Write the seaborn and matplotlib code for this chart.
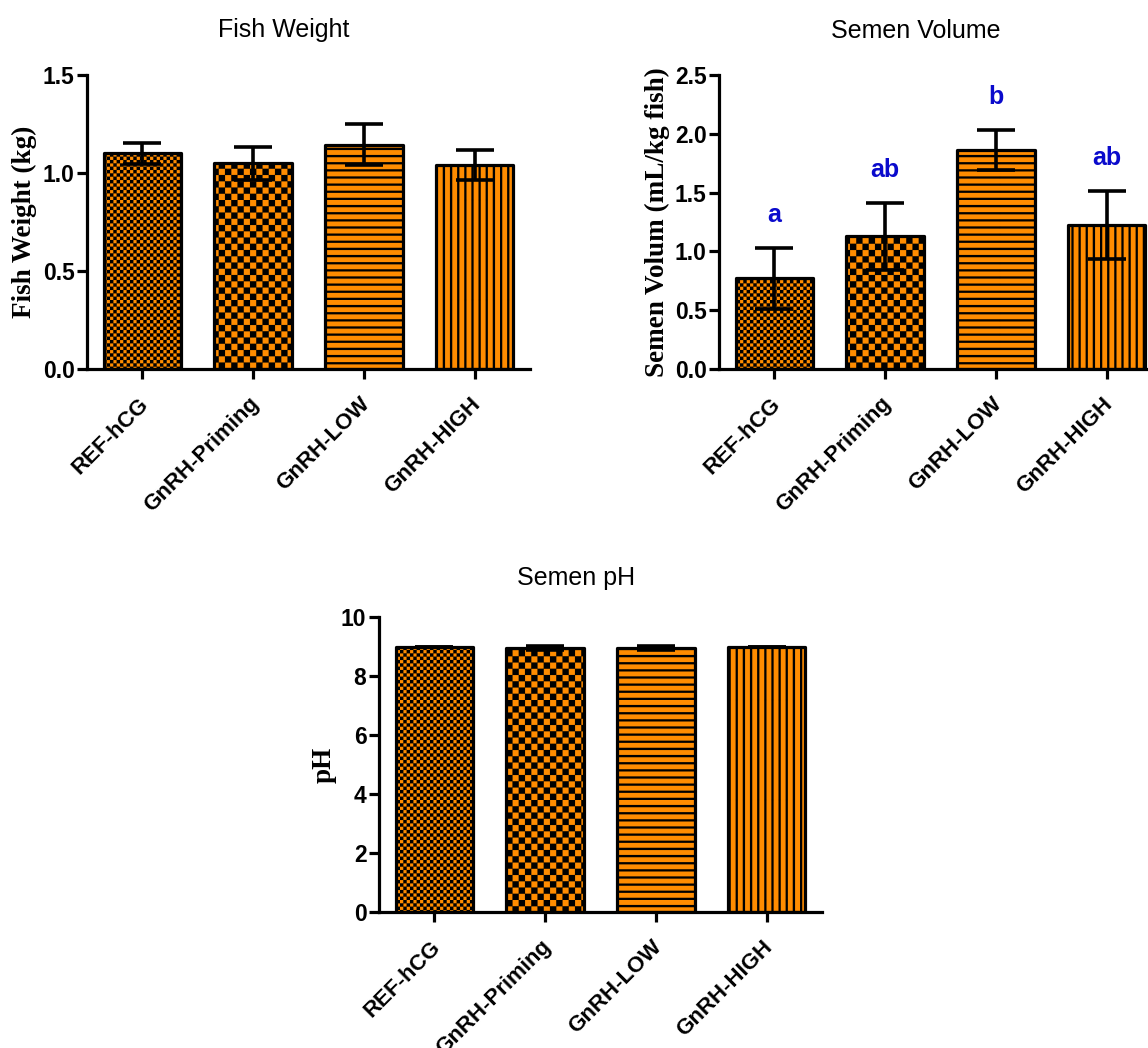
import numpy as np
import matplotlib
matplotlib.use("Agg")
import matplotlib.pyplot as plt
import matplotlib.hatch as mhatch
from matplotlib.path import Path
from matplotlib.ticker import FormatStrFormatter
from matplotlib.transforms import ScaledTranslation
import seaborn as sns

groups = ["REF-hCG", "GnRH-Priming", "GnRH-LOW", "GnRH-HIGH"]

weight_mean = [1.10, 1.05, 1.145, 1.04]
weight_err = [0.055, 0.085, 0.105, 0.078]

volume_mean = [0.77, 1.13, 1.86, 1.225]
volume_err = [0.26, 0.285, 0.17, 0.29]
volume_letters = ["a", "ab", "b", "ab"]

ph_mean = [9.0, 8.95, 8.95, 9.0]
ph_err = [0.0, 0.07, 0.07, 0.0]

hatches = ["o", "O", "-", "|"]


# graphpad style fills: checkerboards and stripes drawn as filled shapes
class Checker(mhatch.HatchPatternBase):
    def __init__(self, hatch, density):
        self.n = 30 if "o" in hatch else (16 if "O" in hatch else 0)
        self.num_vertices = (self.n * self.n // 2) * 5

    def set_vertices_and_codes(self, vertices, codes):
        s = 1.0 / self.n
        k = 0
        for r in range(self.n):
            for c in range(self.n):
                if (r + c) % 2:
                    continue
                x0, y0 = c * s, r * s
                vertices[k:k + 5] = [(x0, y0), (x0 + s, y0), (x0 + s, y0 + s),
                                     (x0, y0 + s), (x0, y0)]
                codes[k:k + 5] = [Path.MOVETO, Path.LINETO, Path.LINETO,
                                  Path.LINETO, Path.CLOSEPOLY]
                k += 5


class Stripes(mhatch.HatchPatternBase):
    n = 14
    frac = 0.3

    def __init__(self, hatch, density):
        self.horiz = "-" in hatch
        self.vert = "|" in hatch
        self.num_vertices = self.n * 5 if (self.horiz or self.vert) else 0

    def set_vertices_and_codes(self, vertices, codes):
        s = 1.0 / self.n
        t = s * self.frac
        for i in range(self.n):
            p = i * s
            if self.horiz:
                pts = [(0, p), (1, p), (1, p + t), (0, p + t), (0, p)]
            else:
                pts = [(p, 0), (p + t, 0), (p + t, 1), (p, 1), (p, 0)]
            vertices[i * 5:i * 5 + 5] = pts
            codes[i * 5:i * 5 + 5] = [Path.MOVETO, Path.LINETO, Path.LINETO,
                                      Path.LINETO, Path.CLOSEPOLY]


mhatch._hatch_types = [Checker, Stripes]

sns.set_style("ticks")
plt.rcParams["font.family"] = ["Liberation Sans", "DejaVu Sans"]
plt.rcParams["hatch.linewidth"] = 0.1
plt.rcParams["hatch.color"] = "black"
for k in ("text.color", "axes.labelcolor", "xtick.color", "ytick.color",
          "axes.edgecolor"):
    plt.rcParams[k] = "black"

W, H = 1148, 1048
fig = plt.figure(figsize=(W / 100, H / 100), dpi=100)

orange = "#ff8c00"
lw = 2.3


def panel(rect, means, errs, title, ylabel, ymax, ystep, fmt, label_x, title_pad):
    ax = fig.add_axes(rect)
    sns.barplot(x=groups, y=means, ax=ax, color=orange, saturation=1,
                edgecolor="black", linewidth=lw, width=0.7, errorbar=None)
    for bar, h in zip(ax.patches, hatches):
        bar.set_hatch(h)
        bar.set_joinstyle("round")
    ax.errorbar(np.arange(len(groups)), means, yerr=errs, fmt="none",
                ecolor="black", elinewidth=2.6, capsize=14, capthick=2.6,
                zorder=5)
    ax.set_xlim(-0.5, 3.5)
    ax.set_ylim(0, ymax)
    ax.set_yticks(np.arange(0, ymax + 1e-9, ystep))
    ax.yaxis.set_major_formatter(FormatStrFormatter(fmt))
    sns.despine(ax=ax)
    for sp in ("left", "bottom"):
        ax.spines[sp].set_linewidth(lw)
    ax.tick_params(width=lw, length=7, direction="out")
    ax.tick_params(axis="y", pad=2, labelsize=16.5)
    ax.tick_params(axis="x", pad=16, labelsize=16)
    for lab in ax.get_yticklabels():
        lab.set_fontweight("bold")
    dx = ScaledTranslation(0.03, 0, fig.dpi_scale_trans)
    for lab in ax.get_xticklabels():
        lab.set_fontweight("bold")
        lab.set_rotation(45)
        lab.set_ha("right")
        lab.set_va("center")
        lab.set_rotation_mode("anchor")
        lab.set_transform(lab.get_transform() + dx)
    ax.set_xlabel("")
    ax.set_ylabel(ylabel, family="Liberation Serif", fontweight="bold",
                  fontsize=19.5)
    ax.yaxis.set_label_coords(label_x, 0.5)
    ax.set_title(title, fontsize=18, x=0.445, pad=title_pad)
    return ax


ax1 = panel([87 / W, 1 - 369 / H, 443 / W, 294 / H], weight_mean, weight_err,
            "Fish Weight", "Fish Weight (kg)", 1.5, 0.5, "%.1f", -0.113, 27)

ax2 = panel([719 / W, 1 - 369 / H, 443 / W, 294 / H], volume_mean, volume_err,
            "Semen Volume", "Semen Volum (mL/kg fish)", 2.5, 0.5, "%.1f", -0.11, 27)
for i, (m, e, t) in enumerate(zip(volume_mean, volume_err, volume_letters)):
    ax2.text(i, m + e + 0.22, t, ha="center", va="baseline", color="#0a0acc",
             fontsize=18, fontweight="bold")

ax3 = panel([379 / W, 1 - 912 / H, 443 / W, 295 / H], ph_mean, ph_err,
            "Semen pH", "pH", 10, 2, "%d", -0.095, 23)

fig.savefig("out.png", dpi=100)
